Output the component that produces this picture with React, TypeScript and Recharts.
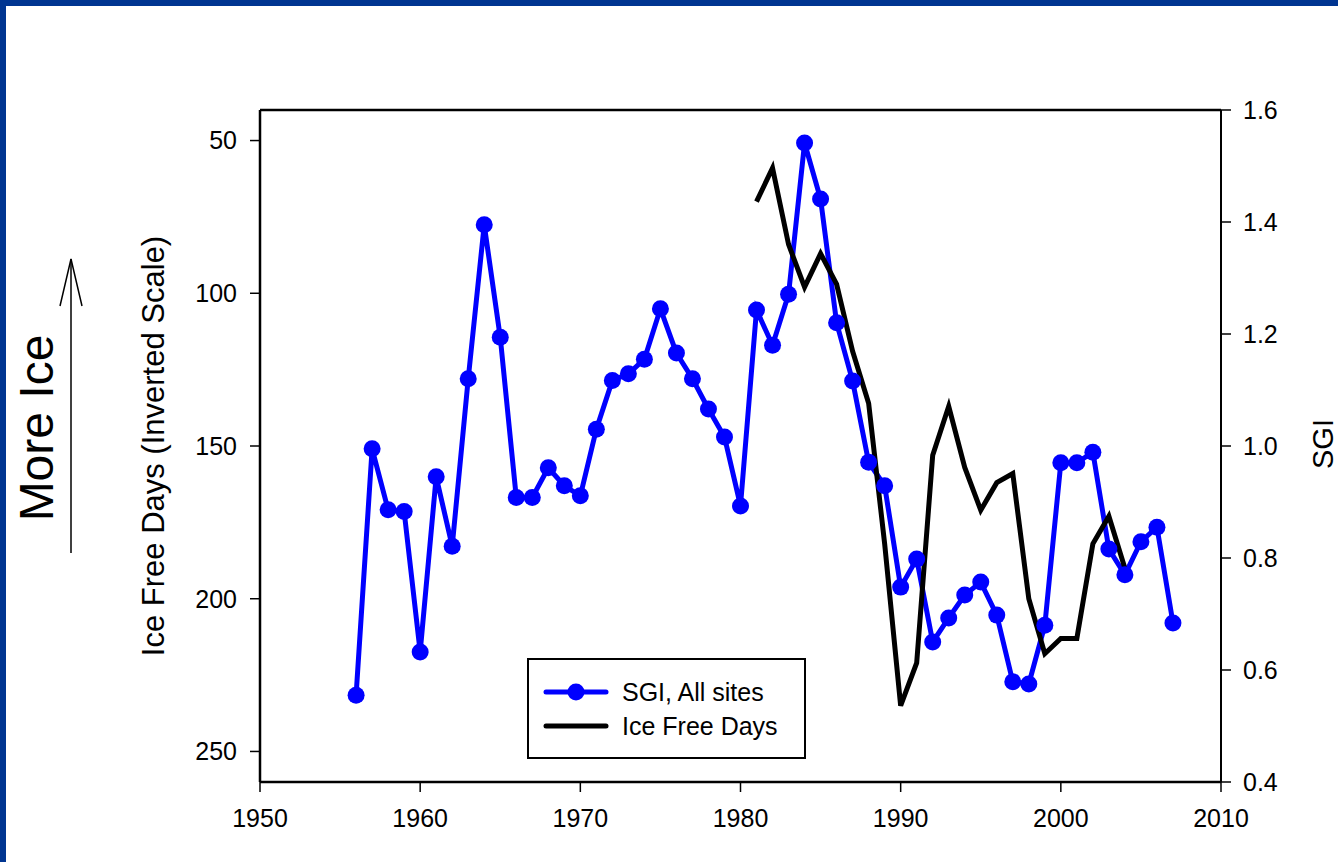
import React from 'react';
import { ComposedChart, Line, XAxis, YAxis, ReferenceLine } from 'recharts';

const FONT = '"Liberation Sans", Arial, Helvetica, sans-serif';

// SGI survey years and index values
const years = [
  1956, 1957, 1958, 1959, 1960, 1961, 1962, 1963, 1964, 1965,
  1966, 1967, 1968, 1969, 1970, 1971, 1972, 1973, 1974, 1975,
  1976, 1977, 1978, 1979, 1980, 1981, 1982, 1983, 1984, 1985,
  1986, 1987, 1988, 1989, 1990, 1991, 1992, 1993, 1994, 1995,
  1996, 1997, 1998, 1999, 2000, 2001, 2002, 2003, 2004, 2005,
  2006, 2007
];
const sgiValues = [
  0.555, 0.995, 0.886, 0.883, 0.632, 0.945, 0.821, 1.12, 1.395, 1.194,
  0.908, 0.908, 0.961, 0.929, 0.911, 1.03, 1.117, 1.129, 1.155, 1.245,
  1.166, 1.12, 1.066, 1.016, 0.893, 1.243, 1.18, 1.271, 1.541, 1.441,
  1.22, 1.116, 0.971, 0.929, 0.748, 0.798, 0.65, 0.693, 0.734, 0.757,
  0.698, 0.579, 0.575, 0.68, 0.97, 0.97, 0.989, 0.816, 0.77, 0.829,
  0.855, 0.684
];

// ice free days record, 1981-2004
const iceFreeYears = [
  1981, 1982, 1983, 1984, 1985, 1986, 1987, 1988, 1989, 1990, 1991, 1992,
  1993, 1994, 1995, 1996, 1997, 1998, 1999, 2000, 2001, 2002, 2003, 2004
];
const iceFreeDays = [
  70, 59, 84, 98, 87, 97, 119, 136, 182, 235, 221, 153,
  137, 157, 171, 162, 159, 200, 218, 213, 213, 182, 173, 190
];

const yearTicks = [1950, 1960, 1970, 1980, 1990, 2000, 2010];
const iceTicks = [50, 100, 150, 200, 250];
const sgiTicks = [0.4, 0.6, 0.8, 1.0, 1.2, 1.4, 1.6];

const legendItems = [
  { label: 'SGI, All sites', color: '#0000ff', marker: true },
  { label: 'Ice Free Days', color: '#000000', marker: false }
];

const data = years.map((year, i) => {
  const k = iceFreeYears.indexOf(year);
  return { year, sgi: sgiValues[i], ice: k >= 0 ? iceFreeDays[k] : null };
});

const tickStyle = { fill: '#000', fontSize: 25, fontFamily: FONT };

const App: React.FC = () => {
  return (
    <div style={{ position: 'absolute', left: 0, top: 0, width: 1338, height: 862, background: '#fff' }}>
      <ComposedChart
        width={1338}
        height={862}
        data={data}
        margin={{ top: 110, right: 0, bottom: 0, left: 0 }}
      >
        <XAxis
          dataKey="year"
          type="number"
          domain={[1950, 2010]}
          ticks={yearTicks}
          allowDataOverflow
          height={80}
          tick={tickStyle}
          tickSize={10}
          tickMargin={17}
          axisLine={{ stroke: '#000', strokeWidth: 2.5 }}
          tickLine={{ stroke: '#000', strokeWidth: 1.5 }}
        />
        <YAxis
          yAxisId="left"
          orientation="left"
          reversed
          domain={[40, 260]}
          ticks={iceTicks}
          allowDataOverflow
          width={260}
          tick={tickStyle}
          tickSize={10}
          tickMargin={13}
          axisLine={{ stroke: '#000', strokeWidth: 2.5 }}
          tickLine={{ stroke: '#000', strokeWidth: 1.5 }}
          label={{
            content: (props: any) => {
              const vb = props.viewBox || { x: 0, y: 110, width: 260, height: 672 };
              const cx = vb.x + vb.width - 96;
              const cy = vb.y + vb.height / 2;
              return (
                <text
                  x={cx}
                  y={cy}
                  transform={`rotate(-90 ${cx} ${cy})`}
                  textAnchor="middle"
                  fontSize={31}
                  fontFamily={FONT}
                  fill="#000"
                >
                  Ice Free Days (Inverted Scale)
                </text>
              );
            }
          }}
        />
        <YAxis
          yAxisId="right"
          orientation="right"
          domain={[0.4, 1.6]}
          ticks={sgiTicks}
          allowDataOverflow
          width={117}
          tick={tickStyle}
          tickFormatter={(v: number) => v.toFixed(1)}
          tickSize={10}
          tickMargin={12}
          axisLine={{ stroke: '#000', strokeWidth: 2 }}
          tickLine={{ stroke: '#000', strokeWidth: 1.5 }}
          label={{
            content: (props: any) => {
              const vb = props.viewBox || { x: 1221, y: 110, width: 117, height: 672 };
              const cx = vb.x + vb.width - 5;
              const cy = vb.y + vb.height / 2 - 2;
              return (
                <text
                  x={cx}
                  y={cy}
                  transform={`rotate(-90 ${cx} ${cy})`}
                  textAnchor="middle"
                  fontSize={29}
                  fontFamily={FONT}
                  fill="#000"
                >
                  SGI
                </text>
              );
            }
          }}
        />
        {/* top frame of the plot box */}
        <ReferenceLine yAxisId="left" y={40} stroke="#000" strokeWidth={2.5} />
        <Line
          yAxisId="right"
          dataKey="sgi"
          type="linear"
          stroke="#0000ff"
          strokeWidth={5}
          dot={{ r: 8.5, fill: '#0000ff', stroke: '#0000ff', strokeWidth: 0 }}
          activeDot={false}
          isAnimationActive={false}
        />
        <Line
          yAxisId="left"
          dataKey="ice"
          type="linear"
          stroke="#000"
          strokeWidth={5}
          dot={false}
          activeDot={false}
          connectNulls={false}
          isAnimationActive={false}
        />
      </ComposedChart>

      {/* slide frame, side note and legend */}
      <svg
        width={1338}
        height={862}
        style={{ position: 'absolute', left: 0, top: 0, pointerEvents: 'none' }}
      >
        <rect x={0} y={0} width={1338} height={6} fill="#003591" />
        <rect x={0} y={0} width={6} height={862} fill="#003591" />

        <text
          transform="translate(53 428) rotate(-90)"
          textAnchor="middle"
          fontSize={48}
          fontFamily={FONT}
          fill="#000"
        >
          More Ice
        </text>
        <line x1={71} y1={259} x2={71} y2={553} stroke="#000" strokeWidth={1.5} />
        <polyline points="60,306 71,259 82,306" fill="none" stroke="#000" strokeWidth={1.5} />

        <g>
          <rect x={528} y={659} width={277} height={99} fill="#fff" stroke="#000" strokeWidth={2} />
          {legendItems.map((item, i) => {
            const y = 692 + i * 34;
            return (
              <g key={item.label}>
                <line
                  x1={546}
                  y1={y}
                  x2={606}
                  y2={y}
                  stroke={item.color}
                  strokeWidth={5}
                  strokeLinecap="round"
                />
                {item.marker && <circle cx={576} cy={y} r={8.5} fill={item.color} />}
                <text x={622} y={y + 9} fontSize={25} fontFamily={FONT} fill="#000">
                  {item.label}
                </text>
              </g>
            );
          })}
        </g>
      </svg>
    </div>
  );
};

export default App;
